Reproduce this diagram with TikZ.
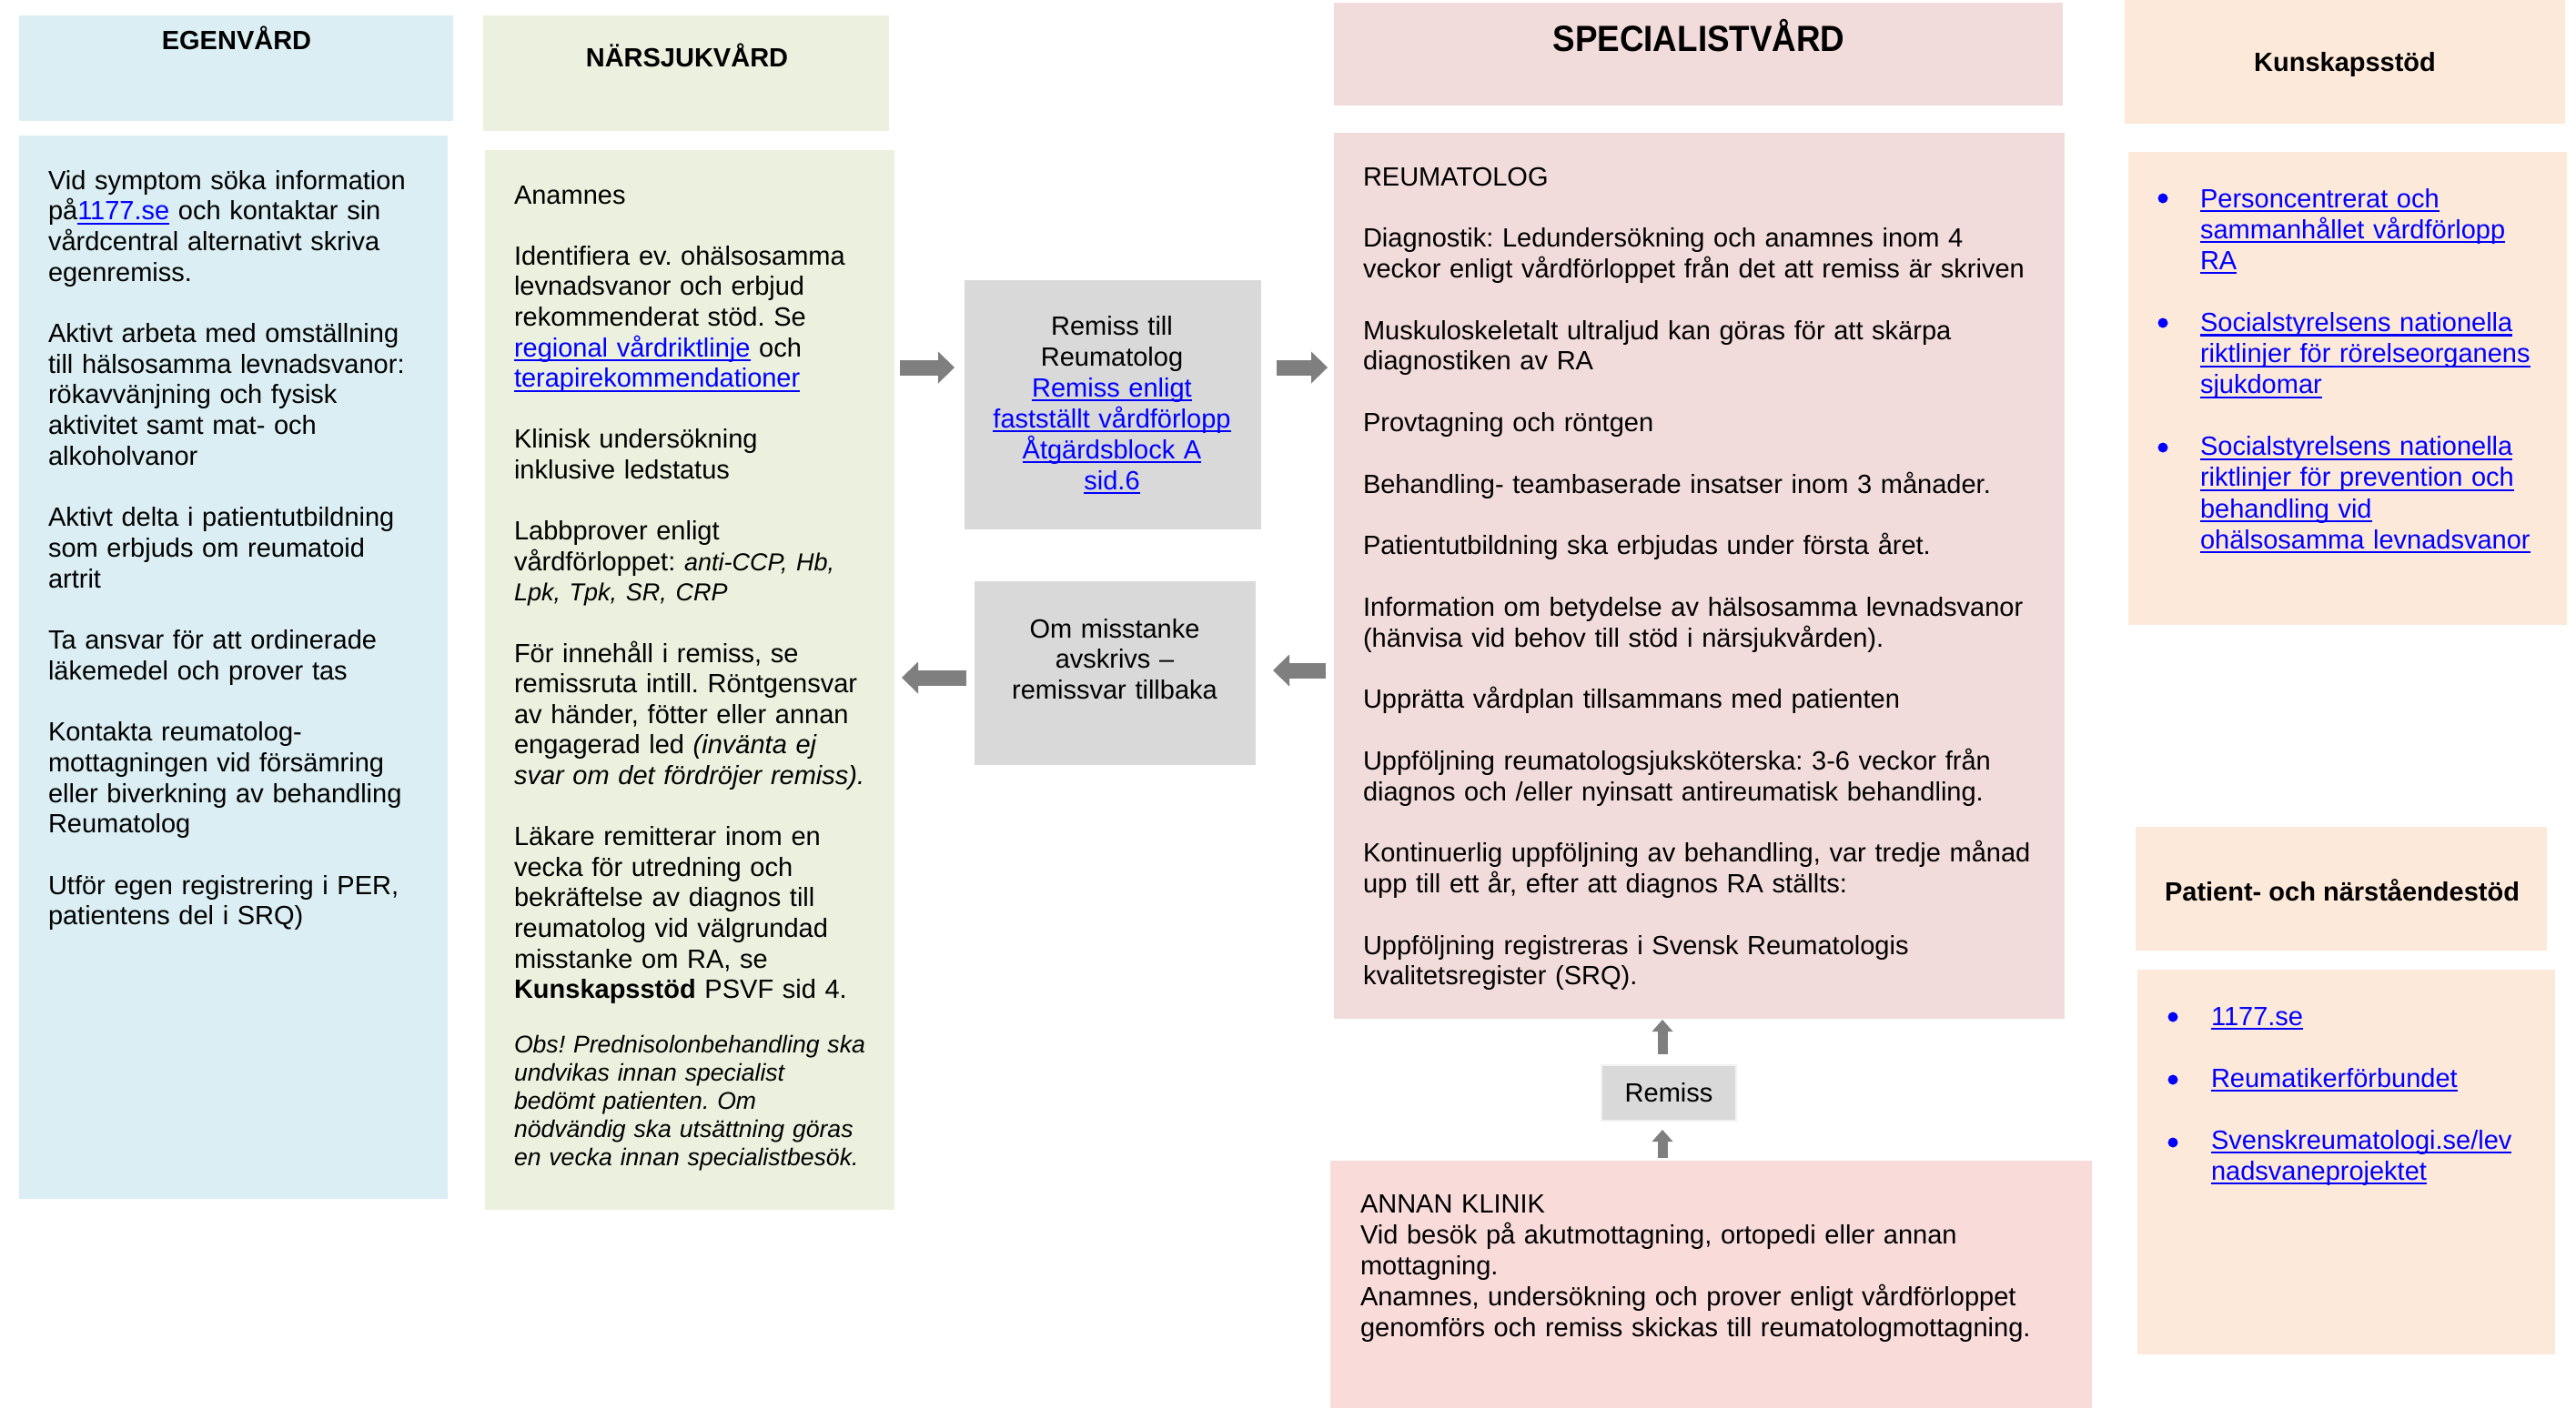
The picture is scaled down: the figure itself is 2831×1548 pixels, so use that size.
\documentclass[tikz,border=0pt]{standalone}
\usepackage{fontspec}
\setmainfont{Liberation Sans}
\newfontfamily\widetitle[FakeStretch=0.92]{Liberation Sans}
\usetikzlibrary{arrows.meta,calc}
\definecolor{egenC}{HTML}{DAEEF3}
\definecolor{narC}{HTML}{EBF1DE}
\definecolor{specC}{HTML}{F2DCDB}
\definecolor{annanC}{HTML}{F9DCDA}
\definecolor{kunC}{HTML}{FDE9D9}
\definecolor{greyC}{HTML}{D9D9D9}
\definecolor{arrowC}{HTML}{7F7F7F}
\definecolor{linkC}{HTML}{0000FF}
\newcommand{\lnk}[1]{\leavevmode{\color{linkC}\setbox0\hbox{#1}\rlap{\rule[-2.6pt]{\wd0}{1.1pt}}\box0}}
\newcommand{\zone}[6]{%
  \pgfmathsetmacro\zW{(#4-#2)*0.5}%
  \pgfmathsetmacro\zH{(#5-#3)*0.5}%
  \node[zonebox,fill=#6,minimum width=\zW pt,minimum height=\zH pt] (#1) at (#2,#3) {};}
\frenchspacing
\begin{document}
\frenchspacing
\begin{tikzpicture}[x=0.5pt,y=-0.5pt,
  zonebox/.style={draw=none,inner sep=0pt,outer sep=0pt,anchor=north west},
  title/.style={inner sep=0pt,outer sep=0pt,anchor=base,font=\bfseries\fontsize{14.5pt}{17pt}\selectfont},
  txt/.style={inner sep=0pt,outer sep=0pt,anchor=base west,align=left,text width=#1,font=\fontsize{14.5pt}{16.85pt}\selectfont},
  ctxt/.style={inner sep=0pt,outer sep=0pt,anchor=base,align=center,text width=#1,font=\fontsize{14.5pt}{17pt}\selectfont},
  bul/.style={circle,fill=linkC,inner sep=0pt,minimum size=5.5pt},
  harrow/.style={draw=arrowC,line width=8.5pt,-{Triangle[length=9pt,width=17.5pt,line width=0pt]}},
  varrow/.style={draw=arrowC,line width=5.5pt,-{Triangle[length=6.5pt,width=11.5pt,line width=0pt]}}
]
\fill[white] (0,0) rectangle (2831,1548);
\useasboundingbox (0,0) rectangle (2831,1548);

% zones
\zone{egenH}{21}{17}{498}{133}{egenC}
\zone{egenB}{21}{149}{492}{1318}{egenC}
\zone{narH}{531}{17}{977}{144}{narC}
\zone{narB}{533}{165}{983}{1330}{narC}
\zone{remissB}{1060}{308}{1386}{582}{greyC}
\zone{omsB}{1071}{639}{1380}{841}{greyC}
\zone{specH}{1466}{3}{2267}{116}{specC}
\zone{reumB}{1466}{146}{2269}{1120}{specC}
\zone{remissS}{1760}{1171}{1908}{1232}{greyC}
\draw[gray!10,line width=1pt] (remissS.north west) rectangle (remissS.south east);
\zone{annanB}{1462}{1276}{2299}{1548}{annanC}
\zone{kunH}{2335}{0}{2819}{136}{kunC}
\zone{kunB}{2339}{167}{2821}{687}{kunC}
\zone{patH}{2347}{909}{2799}{1045}{kunC}
\zone{patB}{2349}{1066}{2808}{1489}{kunC}

% titles
\node[title] (egenT) at (260,54) {EGENVÅRD};
\node[title] (narT) at (755,73) {NÄRSJUKVÅRD};
\node[title,font=\widetitle\bfseries\fontsize{20pt}{24pt}\selectfont] (specT) at (1867,56) {SPECIALISTVÅRD};
\node[title] (kunT) at (2577,78) {Kunskapsstöd};
\node[title] (patT) at (2574,990) {Patient- och närståendestöd};

% EGENVÅRD body
\node[txt=235pt] (egenX) at (53,208) {Vid symptom söka information\\
på\lnk{1177.se} och kontaktar sin\\
vårdcentral alternativt skriva\\
egenremiss.\\[16.85pt]
Aktivt arbeta med omställning\\
till hälsosamma levnadsvanor:\\
rökavvänjning och fysisk\\
aktivitet samt mat- och\\
alkoholvanor\\[16.85pt]
Aktivt delta i patientutbildning\\
som erbjuds om reumatoid\\
artrit\\[16.85pt]
Ta ansvar för att ordinerade\\
läkemedel och prover tas\\[16.85pt]
Kontakta reumatolog-\\
mottagningen vid försämring\\
eller biverkning av behandling\\
Reumatolog\\[16.85pt]
Utför egen registrering i PER,\\
patientens del i SRQ)};

% NÄRSJUKVÅRD body
\node[txt=225pt,font=\fontsize{14.5pt}{16.8pt}\selectfont] (narX) at (565,224) {Anamnes\\[16.8pt]
Identifiera ev. ohälsosamma\\
levnadsvanor och erbjud\\
rekommenderat stöd. Se\\
\lnk{regional vårdriktlinje} och\\
\lnk{terapirekommendationer}\\[16.8pt]
Klinisk undersökning\\
inklusive ledstatus\\[16.8pt]
Labbprover enligt\\
vårdförloppet: {\fontsize{13.5pt}{16.8pt}\selectfont\itshape anti-CCP, Hb,}\\
{\fontsize{13.5pt}{16.8pt}\selectfont\itshape Lpk, Tpk, SR, CRP}\\[16.8pt]
För innehåll i remiss, se\\
remissruta intill. Röntgensvar\\
av händer, fötter eller annan\\
engagerad led {\itshape (invänta ej}\\
{\itshape svar om det fördröjer remiss).}\\[16.8pt]
Läkare remitterar inom en\\
vecka för utredning och\\
bekräftelse av diagnos till\\
reumatolog vid välgrundad\\
misstanke om RA, se\\
\textbf{Kunskapsstöd} PSVF sid 4.};
\node[txt=225pt,font=\itshape\fontsize{13.3pt}{15.5pt}\selectfont] (obsX) at (565,1157) {Obs! Prednisolonbehandling ska\\
undvikas innan specialist\\
bedömt patienten. Om\\
nödvändig ska utsättning göras\\
en vecka innan specialistbesök.};

% middle boxes
\node[ctxt=160pt] (remissT) at (1222,368) {Remiss till\\
Reumatolog\\
\lnk{Remiss enligt}\\
\lnk{fastställt vårdförlopp}\\
\lnk{Åtgärdsblock A}\\
\lnk{sid.6}};
\node[ctxt=150pt,font=\fontsize{14.5pt}{16.8pt}\selectfont] (omsT) at (1225,701) {Om misstanke\\
avskrivs –\\
remissvar tillbaka};

% REUMATOLOG body
\node[txt=390pt,font=\fontsize{14.5pt}{16.9pt}\selectfont] (reumX) at (1498,204) {REUMATOLOG\\[16.9pt]
Diagnostik: Ledundersökning och anamnes inom 4\\
veckor enligt vårdförloppet från det att remiss är skriven\\[16.9pt]
Muskuloskeletalt ultraljud kan göras för att skärpa\\
diagnostiken av RA\\[16.9pt]
Provtagning och röntgen\\[16.9pt]
Behandling- teambaserade insatser inom 3 månader.\\[16.9pt]
Patientutbildning ska erbjudas under första året.\\[16.9pt]
Information om betydelse av hälsosamma levnadsvanor\\
(hänvisa vid behov till stöd i närsjukvården).\\[16.9pt]
Upprätta vårdplan tillsammans med patienten\\[16.9pt]
Uppföljning reumatologsjuksköterska: 3-6 veckor från\\
diagnos och /eller nyinsatt antireumatisk behandling.\\[16.9pt]
Kontinuerlig uppföljning av behandling, var tredje månad\\
upp till ett år, efter att diagnos RA ställts:\\[16.9pt]
Uppföljning registreras i Svensk Reumatologis\\
kvalitetsregister (SRQ).};

\node[ctxt=70pt] (remissST) at (1834,1211) {Remiss};

% ANNAN KLINIK
\node[txt=400pt,font=\fontsize{14.5pt}{17pt}\selectfont] (annanX) at (1495,1333) {ANNAN KLINIK\\
Vid besök på akutmottagning, ortopedi eller annan\\
mottagning.\\
Anamnes, undersökning och prover enligt vårdförloppet\\
genomförs och remiss skickas till reumatologmottagning.};

% Kunskapsstöd
\node[txt=220pt,font=\fontsize{14.5pt}{17.05pt}\selectfont] (kunX) at (2418,228) {\lnk{Personcentrerat och}\\
\lnk{sammanhållet vårdförlopp}\\
\lnk{RA}\\[17.05pt]
\lnk{Socialstyrelsens nationella}\\
\lnk{riktlinjer för rörelseorganens}\\
\lnk{sjukdomar}\\[17.05pt]
\lnk{Socialstyrelsens nationella}\\
\lnk{riktlinjer för prevention och}\\
\lnk{behandling vid}\\
\lnk{ohälsosamma levnadsvanor}};
\node[bul] (kb1) at (2377,218) {};
\node[bul] (kb2) at (2377,355) {};
\node[bul] (kb3) at (2377,492) {};

% Patient- och närståendestöd
\node[txt=200pt,font=\fontsize{14.5pt}{17pt}\selectfont] (patX) at (2430,1127) {\lnk{1177.se}\\[17pt]
\lnk{Reumatikerförbundet}\\[17pt]
\lnk{Svenskreumatologi.se/lev}\\
\lnk{nadsvaneprojektet}};
\node[bul] (pb1) at (2388,1118) {};
\node[bul] (pb2) at (2388,1187) {};
\node[bul] (pb3) at (2388,1256) {};

% arrows
\draw[harrow] ($(narB.north east)+(6,239)$) -- ($(remissB.north west)+(-11,96)$);
\draw[harrow] ($(remissB.north east)+(17,96)$) -- ($(reumB.north west)+(-7,258)$);
\draw[harrow] ($(omsB.north west)+(-9,106)$) -- ($(narB.north east)+(8,580)$);
\draw[harrow] ($(reumB.north west)+(-9,591)$) -- ($(omsB.north east)+(19,98)$);
\draw[varrow] ($(remissS.north)+(-7,-12)$) -- ($(reumB.south west)+(361,1)$);
\draw[varrow] ($(annanB.north west)+(365,-3)$) -- ($(remissS.south)+(-7,10)$);
\end{tikzpicture}
\end{document}
